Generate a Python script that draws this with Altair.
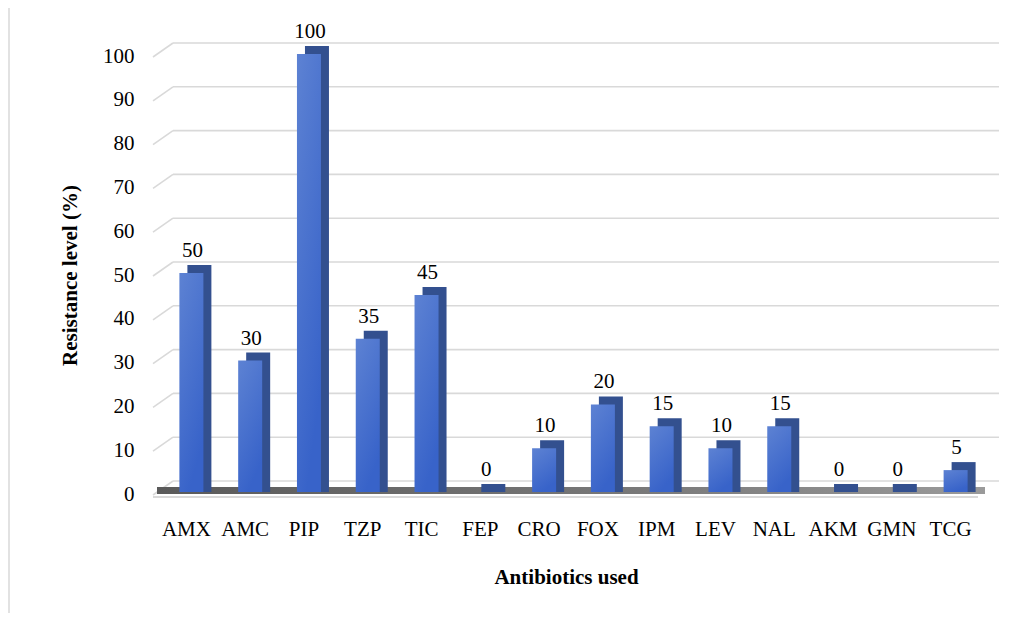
import altair as alt
import pandas as pd

antibiotics = ["AMX", "AMC", "PIP", "TZP", "TIC", "FEP", "CRO", "FOX", "IPM", "LEV", "NAL", "AKM", "GMN", "TCG"]
resistance = [50, 30, 100, 35, 45, 0, 10, 20, 15, 10, 15, 0, 0, 5]
y_ticks = [0, 10, 20, 30, 40, 50, 60, 70, 80, 90, 100]

df = pd.DataFrame({"ab": antibiotics, "res": resistance})
grid_df = pd.DataFrame({"v": y_ticks})

W, H = 823, 438
FONT = "Liberation Serif"

x_axis = alt.Axis(title="Antibiotics used", labelAngle=0, labelFontSize=21,
                  labelFont=FONT, labelColor="#000000", labelPadding=26,
                  domain=False, ticks=False, grid=False,
                  titleFont=FONT, titleFontSize=21, titleFontWeight="bold",
                  titleColor="#000000", titleX=409, titleY=85,
                  titleBaseline="middle", titleAlign="center")
y_axis = alt.Axis(title="Resistance level (%)", values=y_ticks, labelFontSize=21,
                  labelFont=FONT, labelColor="#000000", labelPadding=23, labelOffset=2,
                  domain=False, ticks=False, grid=False,
                  titleFont=FONT, titleFontSize=21, titleFontWeight="bold",
                  titleColor="#000000", titleX=-87, titleY=221, titleAngle=-90,
                  titleBaseline="middle", titleAlign="center")

yscale = alt.Scale(domain=[0, 100], nice=False)
xs = alt.X("ab:N", sort=antibiotics,
           scale=alt.Scale(paddingInner=0, paddingOuter=0), axis=x_axis)
ys = alt.Y("res:Q", scale=yscale, axis=y_axis)

frame = alt.Chart(grid_df.head(1)).mark_rect(fill=None, stroke="#d9d9d9", strokeWidth=1.5).encode(
    x=alt.value(-148), x2=alt.value(900), y=alt.value(-47), y2=alt.value(600))

grid_h = alt.Chart(grid_df).mark_rule(color="#d9d9d9", strokeWidth=1.6, yOffset=-11).encode(
    x=alt.value(16), x2=alt.value(842), y=alt.Y("v:Q", scale=yscale, axis=y_axis))

grid_d = alt.Chart(grid_df).mark_rule(color="#d9d9d9", strokeWidth=1.6, yOffset=3, y2Offset=-11).encode(
    x=alt.value(-4), x2=alt.value(16), y=alt.Y("v:Q", scale=yscale, axis=y_axis), y2="v:Q")

floor = alt.Chart(grid_df.head(1)).mark_rect(
    yOffset=-5, y2Offset=2,
    color=alt.Gradient(gradient="linear", x1=0, x2=1, y1=0, y2=0,
                       stops=[alt.GradientStop(color="#5a5a5a", offset=0),
                              alt.GradientStop(color="#7a7a7a", offset=0.6),
                              alt.GradientStop(color="#9a9a9a", offset=1)])).encode(
    x=alt.value(0), x2=alt.value(828), y=alt.datum(0, scale=yscale, axis=y_axis), y2=alt.datum(0))

floor_line = alt.Chart(grid_df.head(1)).mark_rule(color="#d9d9d9", strokeWidth=2, yOffset=5).encode(
    x=alt.value(-4), x2=alt.value(821), y=alt.datum(0, scale=yscale, axis=y_axis))

back = alt.Chart(df).mark_bar(width=24, xOffset=13, yOffset=-8, color="#33508f").encode(
    x=xs, y=ys, y2=alt.datum(0))

front = alt.Chart(df).mark_bar(
    width=24, xOffset=5,
    color=alt.Gradient(gradient="linear", x1=0, x2=0.4, y1=0, y2=1,
                       stops=[alt.GradientStop(color="#5d82d3", offset=0),
                              alt.GradientStop(color="#3863c9", offset=1)])).encode(
    x=xs, y=ys, y2=alt.datum(0))

labels = alt.Chart(df).mark_text(font=FONT, fontSize=21, color="#000000", dy=-22, dx=6,
                                 baseline="middle").encode(
    x=xs, y=ys, text="res:Q")

chart = alt.layer(frame, grid_h, grid_d, floor, floor_line, back, front, labels).properties(
    width=W, height=H,
    padding={"left": 149, "top": 46, "right": 44, "bottom": 121},
    autosize="none",
).configure(font=FONT).configure_view(stroke=None)

chart.save("out.html", embed_options={"renderer": "svg", "actions": False})
